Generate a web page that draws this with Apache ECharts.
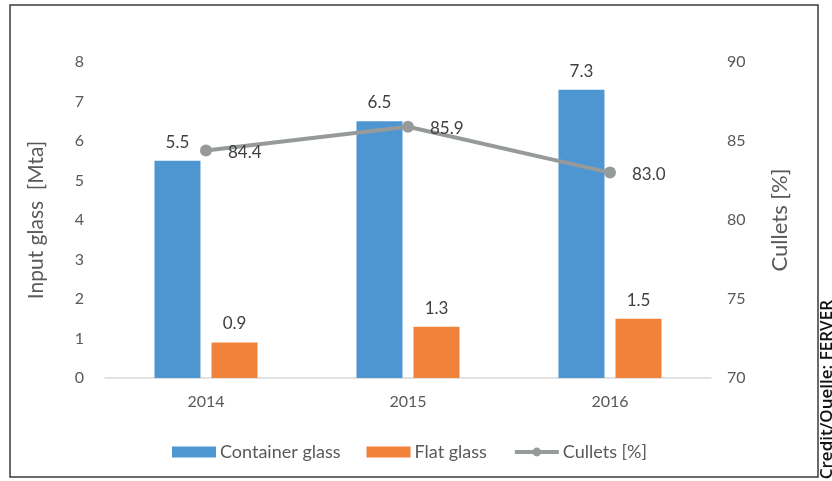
<!DOCTYPE html>
<html>
<head>
<meta charset="utf-8">
<script src="https://cdn.jsdelivr.net/npm/echarts@6/dist/echarts.min.js"></script>
<style>
  html, body { margin: 0; padding: 0; background: #fff; }
  #chart { width: 832px; height: 481px; }
</style>
</head>
<body>
<div id="chart"></div>
<script>
const years = ['2014', '2015', '2016']
const containerGlass = [5.5, 6.5, 7.3]
const flatGlass = [0.9, 1.3, 1.5]
const cullets = [84.4, 85.9, 83.0]

const font = 'Lato'
const chart = echarts.init(document.getElementById('chart'))

chart.setOption({
  animation: false,
  textStyle: { fontFamily: font },
  grid: { left: 105, right: 121, top: 62, bottom: 103 },
  legend: {
    left: 167,
    top: 438,
    itemWidth: 44,
    itemHeight: 11,
    itemGap: 26,
    textStyle: { fontFamily: font, fontSize: 18, color: '#595959', padding: [0, 0, 0, -1] },
    data: [
      { name: 'Container glass', icon: 'rect' },
      { name: 'Flat glass', icon: 'rect' },
      { name: 'Cullets [%]', lineStyle: { width: 4 } }
    ]
  },
  xAxis: {
    type: 'category',
    data: years,
    axisLine: { lineStyle: { color: '#d9d9d9', width: 1.5 } },
    axisTick: { show: false },
    axisLabel: { color: '#595959', fontSize: 16, margin: 16 }
  },
  yAxis: [{
    type: 'value',
    min: 0,
    max: 8,
    interval: 1,
    name: 'Input glass  [Mta]',
    nameLocation: 'middle',
    nameGap: 58,
    nameTextStyle: { fontSize: 21, color: '#595959', fontFamily: font },
    axisLine: { show: false },
    axisTick: { show: false },
    splitLine: { show: false },
    axisLabel: { color: '#595959', fontSize: 16, margin: 21 }
  }, {
    type: 'value',
    min: 70,
    max: 90,
    interval: 5,
    name: 'Cullets [%]',
    nameLocation: 'middle',
    nameGap: 58,
    nameRotate: 90,
    nameTextStyle: { fontSize: 22, color: '#595959', fontFamily: font },
    axisLine: { show: false },
    axisTick: { show: false },
    splitLine: { show: false },
    axisLabel: { color: '#595959', fontSize: 16, margin: 16 }
  }],
  series: [{
    name: 'Container glass',
    type: 'bar',
    data: containerGlass,
    barWidth: 46,
    barGap: '24%',
    itemStyle: { color: '#4e96d2' },
    label: { show: true, position: 'top', distance: 10, fontSize: 17, color: '#404040', formatter: p => p.value.toFixed(1) }
  }, {
    name: 'Flat glass',
    type: 'bar',
    data: flatGlass,
    barWidth: 46,
    itemStyle: { color: '#f0823a' },
    label: { show: true, position: 'top', distance: 10, fontSize: 17, color: '#404040', formatter: p => p.value.toFixed(1) }
  }, {
    name: 'Cullets [%]',
    type: 'line',
    yAxisIndex: 1,
    data: cullets,
    symbol: 'circle',
    symbolSize: 12,
    lineStyle: { color: '#979a9a', width: 4 },
    itemStyle: { color: '#979a9a' },
    label: { show: true, position: 'right', distance: 16, offset: [0, 2], fontSize: 17, color: '#404040', formatter: p => p.value.toFixed(1) }
  }],
  graphic: [{
    type: 'rect',
    shape: { x: 10, y: 5, width: 808, height: 472 },
    style: { fill: 'none', stroke: '#3a3a3a', lineWidth: 1.5 }
  }, {
    type: 'text',
    x: 827,
    y: 300,
    rotation: Math.PI / 2,
    style: {
      text: 'Credit/Quelle: FERVER',
      fontFamily: 'Open Sans',
      fontSize: 17,
      fontWeight: 600,
      fill: '#111',
      align: 'right',
      verticalAlign: 'middle'
    }
  }]
})
</script>
</body>
</html>
